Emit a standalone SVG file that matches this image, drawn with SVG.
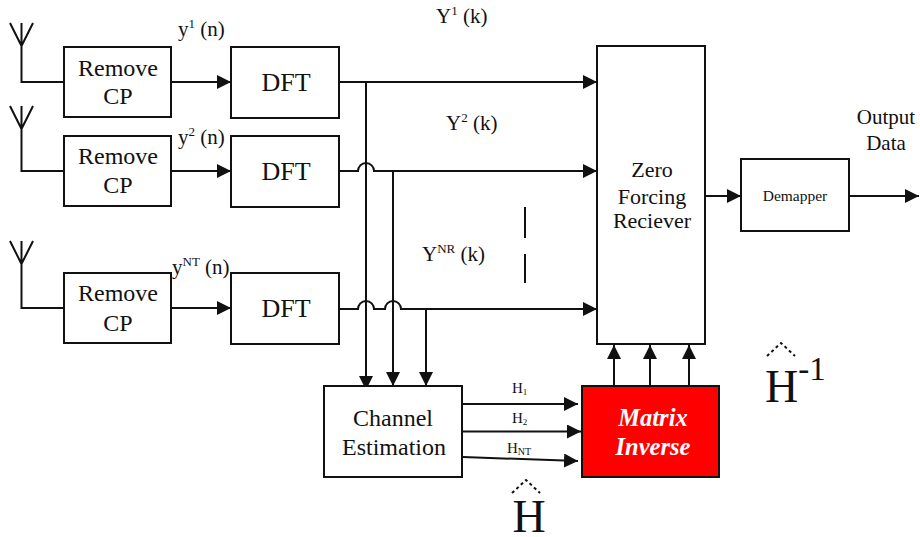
<svg xmlns="http://www.w3.org/2000/svg" width="920" height="537" viewBox="0 0 920 537">
<style>
text{font-family:"Liberation Serif","Times New Roman",serif;fill:#111;text-anchor:middle}
.b{fill:#fff;stroke:#111;stroke-width:2}
.l{fill:none;stroke:#111;stroke-width:2}
.a{fill:none;stroke:#111;stroke-width:2;marker-end:url(#ah)}
.t{font-size:24px}
.f{font-size:26px}
.z{font-size:22px}
.s{font-size:21px;text-anchor:start}
.sm{font-size:15px}
.o{font-size:21px}
.w{font-size:24.500px;font-weight:700;font-style:italic;fill:#fff}
.d{fill:none;stroke:#111;stroke-width:2;stroke-dasharray:3 3}
</style>
<defs>
<marker id="ah" markerUnits="userSpaceOnUse" markerWidth="15" markerHeight="15" refX="14" refY="7" orient="auto"><path d="M0 0L14 7L0 14Z" fill="#111"/></marker>
</defs>
<rect width="920" height="537" fill="#fff"/>
<g id="connectors">
<path class="l" d="M10 23L21.500 46L33 23M21.500 23V82H64"/>
<path class="l" d="M10 106L21.500 129L33 106M21.500 106V171H64"/>
<path class="l" d="M10 241L21.500 264L33 241M21.500 241V308H64"/>
<path class="a" d="M171 82H231"/>
<path class="a" d="M171 171H231"/>
<path class="a" d="M171 308H231"/>
<path class="a" d="M339 82H597"/>
<path class="a" d="M339 171H358a8 8 0 0 1 16 0H597"/>
<path class="a" d="M339 309H358a8 8 0 0 1 16 0H385a8 8 0 0 1 16 0H597"/>
<path class="a" d="M366 82V390"/>
<path class="a" d="M393 171V386"/>
<path class="a" d="M426 309V386"/>
<path class="a" d="M463 404H578"/>
<path class="a" d="M463 431.500H581"/>
<path class="a" d="M463 457L578 461"/>
<path class="a" d="M614 386V345"/>
<path class="a" d="M650 386V345"/>
<path class="a" d="M689 386V345"/>
<path class="a" d="M705 196H741"/>
<path class="a" d="M849 196H919"/>
<path class="l" d="M525 207V238M525 254V283"/>
<path class="d" d="M767 356L781 343L795 356"/>
<path class="d" d="M512 493L526 480L540 493"/>
</g>
<g id="rm1"><rect class="b" x="64" y="47" width="107" height="70"/><text class="t" x="118" y="76">Remove</text><text class="t" x="118" y="104">CP</text></g>
<g id="rm2"><rect class="b" x="64" y="136" width="107" height="70"/><text class="t" x="118" y="164">Remove</text><text class="t" x="118" y="193">CP</text></g>
<g id="rm3"><rect class="b" x="64" y="273" width="107" height="70"/><text class="t" x="118" y="301">Remove</text><text class="t" x="118" y="331">CP</text></g>
<g id="dft1"><rect class="b" x="231" y="47" width="108" height="71"/><text class="f" x="286" y="91">DFT</text></g>
<g id="dft2"><rect class="b" x="231" y="136" width="108" height="71"/><text class="f" x="286" y="180">DFT</text></g>
<g id="dft3"><rect class="b" x="231" y="273" width="108" height="71"/><text class="f" x="286" y="317">DFT</text></g>
<g id="zf"><rect class="b" x="597" y="46" width="108" height="298"/><text class="z" x="652" y="177">Zero</text><text class="z" x="652" y="204">Forcing</text><text class="z" x="652" y="228">Reciever</text></g>
<g id="dem"><rect class="b" x="741" y="159" width="108" height="72"/><text x="795" y="201" font-size="15.500">Demapper</text></g>
<g id="ce"><rect class="b" x="324" y="386" width="138" height="91"/><text class="t" x="393" y="426">Channel</text><text class="t" x="394" y="455">Estimation</text></g>
<g id="mi"><rect x="582" y="386" width="137" height="91" fill="#f00" stroke="#111" stroke-width="2"/><text class="w" x="653" y="426">Matrix</text><text class="w" x="653" y="455">Inverse</text></g>
<g id="labels">
<text class="s" x="178" y="36">y<tspan dy="-8" font-size="13">1</tspan><tspan dy="8"> (n)</tspan></text>
<text class="s" x="178" y="144">y<tspan dy="-8" font-size="13">2</tspan><tspan dy="8"> (n)</tspan></text>
<text class="s" x="172" y="274">y<tspan dy="-8" font-size="13">NT</tspan><tspan dy="8"> (n)</tspan></text>
<text class="s" x="436" y="23">Y<tspan dy="-8" font-size="13">1</tspan><tspan dy="8"> (k)</tspan></text>
<text class="s" x="446" y="130">Y<tspan dy="-8" font-size="13">2</tspan><tspan dy="8"> (k)</tspan></text>
<text class="s" x="422" y="261">Y<tspan dy="-8" font-size="13">NR</tspan><tspan dy="8"> (k)</tspan></text>
<text class="o" x="886" y="124">Output</text><text class="o" x="886" y="150">Data</text>
<text class="sm" x="512" y="393" style="text-anchor:start">H<tspan font-size="9" dy="2">1</tspan></text>
<text class="sm" x="512" y="423" style="text-anchor:start">H<tspan font-size="9" dy="2">2</tspan></text>
<text class="sm" x="507" y="453" style="text-anchor:start">H<tspan font-size="10" dy="2">NT</tspan></text>
<text x="765" y="402" font-size="46" style="text-anchor:start">H<tspan font-size="33" dy="-22">-1</tspan></text>
<text x="529" y="532" font-size="46">H</text>
</g>
</svg>
